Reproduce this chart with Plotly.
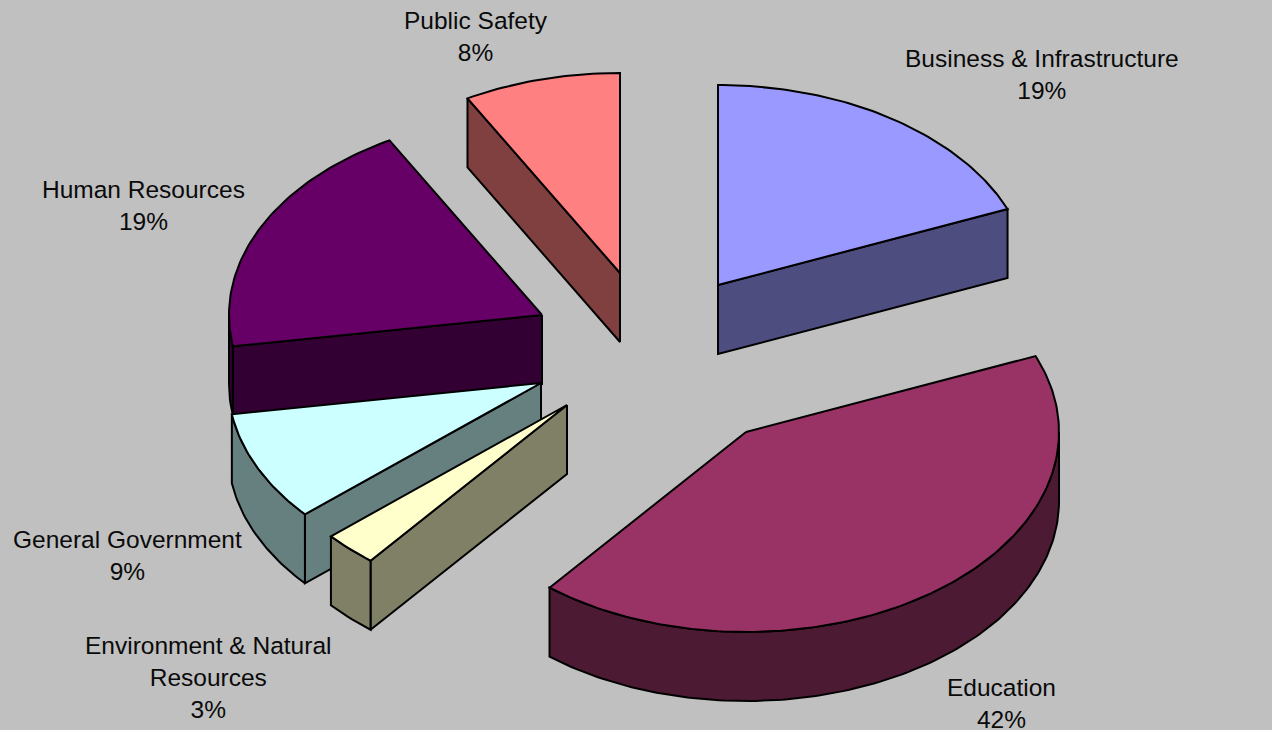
import numpy as np
import plotly.graph_objects as go

# ---- data ----
categories = ["Business & Infrastructure", "Education", "Environment & Natural<br>Resources",
              "General Government", "Human Resources", "Public Safety"]
values = [18.8, 42.0, 2.8, 8.9, 19.4, 8.1]
labels_pct = ["19%", "42%", "3%", "9%", "19%", "8%"]

# ---- styles ----
top_colors = ["#9999FF", "#993366", "#FFFFCC", "#CCFFFF", "#660066", "#FF8080"]
side_colors = ["#4D4D80", "#4D1A33", "#808066", "#668080", "#330033", "#804040"]
apex_x = [718, 746, 567, 541, 542, 620]
apex_y = [285, 432, 405, 383, 315, 273]
label_x = [1042, 1001, 208, 127, 143, 476]
label_y = [74, 703, 677, 555, 205, 36]
draw_order = [5, 0, 4, 3, 2, 1]
RX, RY, DEPTH = 313, 200, 69
FONT = dict(family="Liberation Sans, Arial, sans-serif", size=24.5, color="#0a0a0a")
LINE = dict(color="black", width=2)

edges = np.concatenate([[0], np.cumsum(values)]) / sum(values) * 2 * np.pi


def rim(cx, cy, a, b, dy=0):
    t = np.linspace(a, b, max(int(abs(b - a) * 60), 2))
    return cx + RX * np.sin(t), cy - RY * np.cos(t) + dy


def face(fig, xs, ys, color, name):
    fig.add_trace(go.Scatter(x=np.r_[xs, xs[0]], y=np.r_[ys, ys[0]], mode="lines",
                             fill="toself", fillcolor=color, line=LINE,
                             name=name, hoverinfo="name", showlegend=False))


fig = go.Figure()
for i in draw_order:
    a, b = edges[i], edges[i + 1]
    cx, cy = apex_x[i], apex_y[i]
    name = categories[i].replace("<br>", " ")
    for ang, vis in ((a, np.sin(a) < -1e-6), (b, np.sin(b) > 1e-6)):
        if vis:
            ex, ey = cx + RX * np.sin(ang), cy - RY * np.cos(ang)
            face(fig, np.array([cx, ex, ex, cx]), np.array([cy, ey, ey + DEPTH, cy + DEPTH]),
                 side_colors[i], name)
    lo, hi = max(a, np.pi / 2), min(b, 3 * np.pi / 2)
    if hi > lo:
        x1, y1 = rim(cx, cy, lo, hi)
        x2, y2 = rim(cx, cy, hi, lo, DEPTH)
        face(fig, np.r_[x1, x2], np.r_[y1, y2], side_colors[i], name)
    x1, y1 = rim(cx, cy, a, b)
    face(fig, np.r_[cx, x1], np.r_[cy, y1], top_colors[i], name)

for i, c in enumerate(categories):
    fig.add_annotation(x=label_x[i], y=label_y[i], text=f"{c}<br>{labels_pct[i]}", showarrow=False,
                       font=FONT, align="center", xanchor="center", yanchor="middle")

fig.update_layout(width=1272, height=730, margin=dict(l=0, r=0, t=0, b=0),
                  paper_bgcolor="#C0C0C0", plot_bgcolor="#C0C0C0", showlegend=False,
                  xaxis=dict(range=[0, 1272], visible=False),
                  yaxis=dict(range=[730, 0], visible=False))
fig.write_html("out.html", config=dict(displayModeBar=False),
               post_script="document.body.style.margin='0';")
